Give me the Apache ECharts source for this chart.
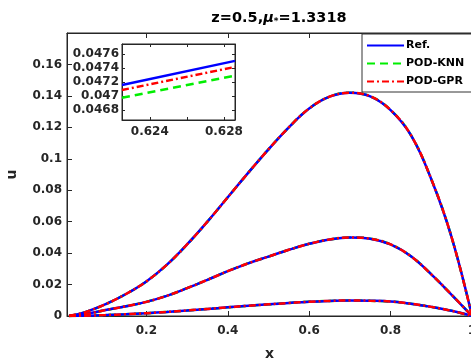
<!DOCTYPE html>
<html>
<head>
<meta charset="utf-8">
<script src="https://cdn.jsdelivr.net/npm/echarts@6/dist/echarts.min.js"></script>
<style>
  html, body { margin: 0; padding: 0; background: #fff; }
  #chart { width: 471px; height: 363px; }
</style>
</head>
<body>
<div id="chart"></div>
<script>
// x positions shared by the three curves
const xs = [0.01, 0.05, 0.1, 0.15, 0.2, 0.25, 0.3, 0.35, 0.4, 0.45, 0.5, 0.55, 0.6, 0.65, 0.7, 0.75, 0.8, 0.85, 0.9, 0.95, 1.0];
const uTop = [0, 0.0025, 0.0075, 0.014, 0.022, 0.0325, 0.0455, 0.060, 0.0755, 0.091, 0.106, 0.120, 0.132, 0.1395, 0.142, 0.1397, 0.131, 0.115, 0.087, 0.050, 0];
const uMid = [0, 0.0012, 0.0038, 0.0062, 0.009, 0.0128, 0.0177, 0.023, 0.0285, 0.0335, 0.0378, 0.0421, 0.0459, 0.0487, 0.050, 0.0492, 0.0455, 0.038, 0.0265, 0.0135, 0];
const uLow = [0, 0.0002, 0.0006, 0.0011, 0.0018, 0.0026, 0.0035, 0.0045, 0.0055, 0.0065, 0.0074, 0.0083, 0.0091, 0.0096, 0.0099, 0.0097, 0.0092, 0.0078, 0.0058, 0.0033, 0];

// zoomed inset
const xsInset = [0.6225, 0.6286];
const refInset = [0.047157, 0.0475];
const knnInset = [0.046976, 0.04729];
const gprInset = [0.047086, 0.047414];

const xTicks = [0.2, 0.4, 0.6, 0.8, 1];
const yTicks = [0, 0.02, 0.04, 0.06, 0.08, 0.1, 0.12, 0.14, 0.16, 0.18];
const yLabels = [0, 0.02, 0.04, 0.06, 0.08, 0.1, 0.12, 0.14, 0.16];
const xInsetTicks = [0.624, 0.626, 0.628];
const xInsetLabels = [0.624, 0.628];
const yInsetTicks = [0.0468, 0.047, 0.0472, 0.0474, 0.0476];

const BLUE = '#0000ff', GREEN = '#00ee00', RED = '#ff0000';
const AX = '#262626';
const FONT = '"DejaVu Sans", sans-serif';

const pairs = (x, y) => x.map((v, i) => [v, y[i]]);

const styles = {
  ref: { name: 'Ref.', color: BLUE, type: 'solid' },
  knn: { name: 'POD-KNN', color: GREEN, type: [8, 5] },
  gpr: { name: 'POD-GPR', color: RED, type: [7, 3, 2, 3] },
};

const series = [];
// green under blue under red, as in the picture
['knn', 'ref', 'gpr'].forEach(k => {
  const s = styles[k];
  [uTop, uMid, uLow].forEach(u => {
    series.push({
      name: s.name, type: 'line', xAxisIndex: 0, yAxisIndex: 0,
      data: pairs(xs, u), smooth: 0.4, symbol: 'none',
      lineStyle: { color: s.color, width: 2.5, type: s.type },
      itemStyle: { color: s.color },
    });
  });
});
[[refInset, 'ref'], [knnInset, 'knn'], [gprInset, 'gpr']].forEach(([vals, k]) => {
  const s = styles[k];
  series.push({
    name: s.name, type: 'line', xAxisIndex: 2, yAxisIndex: 1, z: 7,
    data: pairs(xsInset, vals), symbol: 'none',
    lineStyle: { color: s.color, width: 2.5, type: s.type },
    itemStyle: { color: s.color },
  });
});

const tickLbl = { color: AX, fontWeight: 'bold', fontFamily: FONT, fontSize: 12 };
const lineAx = { lineStyle: { color: AX, width: 1 } };

const chart = echarts.init(document.getElementById('chart'));
chart.setOption({
  animation: false,
  backgroundColor: '#fff',
  title: {
    text: '{a|z=0.5,}{m|μ}{s|*}{a|=1.3318}',
    left: 274, top: 5, textAlign: 'center',
    textStyle: {
      rich: {
        a: { fontSize: 14.5, fontWeight: 'bold', fontFamily: FONT, color: '#000' },
        m: { fontSize: 14.5, fontWeight: 'bold', fontStyle: 'italic', fontFamily: FONT, color: '#000' },
        s: { fontSize: 9, fontWeight: 'bold', fontFamily: FONT, color: '#000', padding: [7, 0, 0, 0] },
      },
    },
  },
  legend: {
    data: ['Ref.', 'POD-KNN', 'POD-GPR'],
    orient: 'vertical', left: 362, top: 34,
    itemWidth: 37, itemHeight: 10, itemGap: 7,
    padding: [6, 30, 5, 4],
    borderColor: '#333', borderWidth: 1, backgroundColor: '#fff',
    itemStyle: { opacity: 0 },
    textStyle: { color: '#000', fontWeight: 'bold', fontFamily: FONT, fontSize: 11, padding: [0, 0, 0, -3] },
  },
  grid: [
    { left: 67, top: 33, width: 405, height: 283, show: true, borderColor: AX, borderWidth: 1, outerBoundsMode: 'none' },
    { left: 122, top: 44, width: 113, height: 76, show: true, borderColor: AX, borderWidth: 1, backgroundColor: '#fff', z: 5, outerBoundsMode: 'none' },
  ],
  xAxis: [
    {
      gridIndex: 0, type: 'value', min: 0.005, max: 1,
      name: 'x', nameLocation: 'middle', nameGap: 31,
      nameTextStyle: { color: AX, fontWeight: 'bold', fontFamily: FONT, fontSize: 14 },
      axisLine: lineAx, splitLine: { show: false },
      axisTick: { inside: true, length: 5, customValues: xTicks, lineStyle: { color: AX } },
      axisLabel: { ...tickLbl, margin: 9, customValues: xTicks, formatter: v => String(+v.toFixed(2)) },
    },
    {
      gridIndex: 0, type: 'value', min: 0.005, max: 1, position: 'top',
      axisLine: lineAx, splitLine: { show: false },
      axisTick: { inside: true, length: 5, customValues: xTicks, lineStyle: { color: AX } },
      axisLabel: { show: false },
    },
    {
      gridIndex: 1, type: 'value', min: 0.6225, max: 0.6286, z: 6,
      axisLine: lineAx, splitLine: { show: false },
      axisTick: { inside: true, length: 3, customValues: xInsetTicks, lineStyle: { color: AX } },
      axisLabel: { ...tickLbl, margin: 6, customValues: xInsetLabels, formatter: v => String(+v.toFixed(3)) },
    },
    {
      gridIndex: 1, type: 'value', min: 0.6225, max: 0.6286, position: 'top', z: 6,
      axisLine: lineAx, splitLine: { show: false },
      axisTick: { inside: true, length: 3, customValues: xInsetTicks, lineStyle: { color: AX } },
      axisLabel: { show: false },
    },
  ],
  yAxis: [
    {
      gridIndex: 0, type: 'value', min: 0, max: 0.18,
      name: 'u', nameLocation: 'middle', nameGap: 48,
      nameTextStyle: { color: AX, fontWeight: 'bold', fontFamily: FONT, fontSize: 14 },
      axisLine: lineAx, splitLine: { show: false },
      axisTick: { inside: true, length: 5, customValues: yTicks, lineStyle: { color: AX } },
      axisLabel: { ...tickLbl, margin: 5, customValues: yLabels, formatter: v => String(+v.toFixed(2)) },
    },
    {
      gridIndex: 1, type: 'value', min: 0.04666, max: 0.04774, z: 6,
      axisLine: lineAx, splitLine: { show: false },
      axisTick: { inside: true, length: 3, customValues: yInsetTicks, lineStyle: { color: AX } },
      axisLabel: { ...tickLbl, margin: 3, customValues: yInsetTicks, formatter: v => String(+v.toFixed(4)) },
    },
    {
      gridIndex: 1, type: 'value', min: 0.04666, max: 0.04774, position: 'right', z: 6,
      axisLine: lineAx, splitLine: { show: false },
      axisTick: { inside: true, length: 3, customValues: yInsetTicks, lineStyle: { color: AX } },
      axisLabel: { show: false },
    },
  ],
  series: series,
});
</script>
</body>
</html>
